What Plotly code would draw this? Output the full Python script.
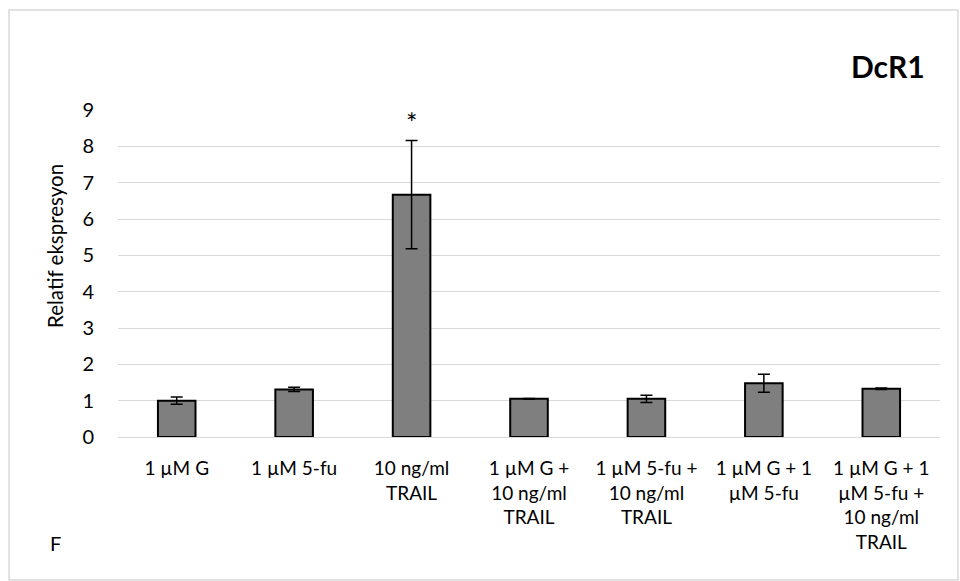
import plotly.graph_objects as go

# Treatment groups and measured relative expression (mean ± error)
categories = [
    "1 µM G",
    "1 µM 5-fu",
    "10 ng/ml<br>TRAIL",
    "1 µM G +<br>10 ng/ml<br>TRAIL",
    "1 µM 5-fu +<br>10 ng/ml<br>TRAIL",
    "1 µM G + 1<br>µM 5-fu",
    "1 µM G + 1<br>µM 5-fu +<br>10 ng/ml<br>TRAIL",
]
values = [1.0, 1.31, 6.67, 1.05, 1.05, 1.48, 1.33]
errors = [0.10, 0.06, 1.49, 0.01, 0.10, 0.245, 0.02]
significant = [False, False, True, False, False, False, False]
y_ticks = [0, 1, 2, 3, 4, 5, 6, 7, 8, 9]

FONT = "Lato"
W, H = 960, 581
L, R, T, B = 118, 20, 110, 144
pw, ph = W - L - R, H - T - B


def px_to_paper(x, y):
    return (x - L) / pw, (H - B - y) / ph


fig = go.Figure()
fig.add_trace(
    go.Bar(
        x=categories,
        y=values,
        marker=dict(color="#7f7f7f", line=dict(color="#000000", width=2)),
        error_y=dict(type="data", array=errors, visible=True,
                     color="#000000", thickness=1.5, width=6),
        width=0.32,
        hoverinfo="skip",
    )
)

# significance marks above error bars
for c, v, e, s in zip(categories, values, errors, significant):
    if s:
        fig.add_annotation(x=c, y=v + e, text="*", showarrow=False,
                           yanchor="bottom", yshift=0,
                           font=dict(family=FONT, size=27, color="#000"))

# chart title, axis title and panel letter
tx, ty = px_to_paper(927, 66)
fig.add_annotation(x=tx, y=ty, xref="paper", yref="paper", text="<b>DcR1</b>",
                   showarrow=False, xanchor="right", yanchor="middle",
                   font=dict(family=FONT, size=30, color="#000"))
ax, ay = px_to_paper(55, 246)
fig.add_annotation(x=ax, y=ay, xref="paper", yref="paper", text="Relatif ekspresyon",
                   showarrow=False, textangle=-90, xanchor="center", yanchor="middle",
                   font=dict(family=FONT, size=20.5, color="#000"))
fx, fy = px_to_paper(56, 543)
fig.add_annotation(x=fx, y=fy, xref="paper", yref="paper", text="F",
                   showarrow=False, xanchor="center", yanchor="middle",
                   font=dict(family=FONT, size=20, color="#000"))

# outer frame
x0, y0 = px_to_paper(9, 10)
x1, y1 = px_to_paper(958, 580)
fig.add_shape(type="rect", xref="paper", yref="paper", x0=x0, y0=y1, x1=x1, y1=y0,
              line=dict(color="#d9d9d9", width=1.5), layer="below")

fig.update_layout(
    width=W, height=H,
    margin=dict(l=L, r=R, t=T, b=B),
    paper_bgcolor="white", plot_bgcolor="white",
    showlegend=False,
    font=dict(family=FONT, size=19, color="#000"),
)
fig.update_xaxes(showgrid=False, showline=False, ticks="", tickangle=0,
                 ticklabelstandoff=18, tickfont=dict(family=FONT, size=19, color="#000"))
fig.update_yaxes(range=[0, 9], tickvals=y_ticks, showgrid=True, gridcolor="#d9d9d9",
                 gridwidth=1.3, zeroline=True, zerolinecolor="#d9d9d9", zerolinewidth=1.3,
                 showline=False, ticks="", ticklabelstandoff=23,
                 tickfont=dict(family=FONT, size=20, color="#000"))

fig.write_html("out.html")
